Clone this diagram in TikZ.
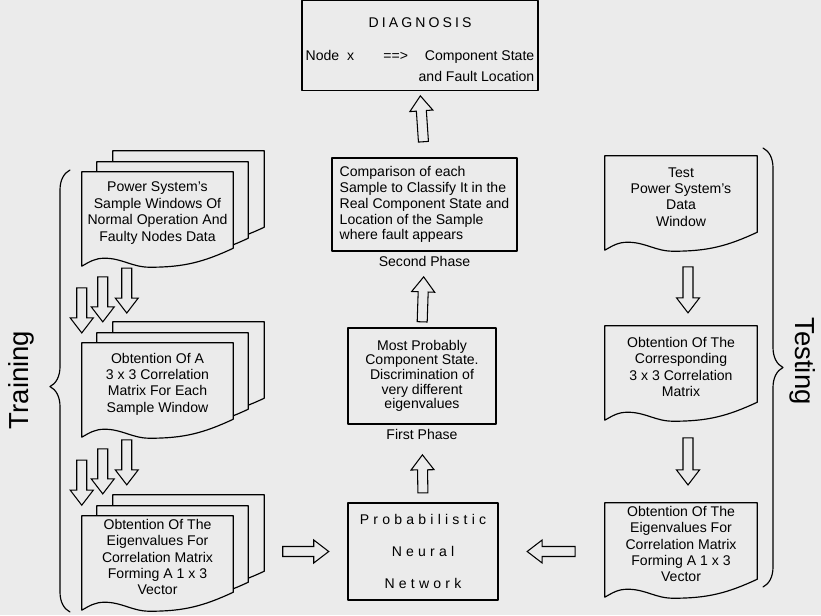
\documentclass[tikz,border=0pt]{standalone}
\usepackage{fontspec}
\setmainfont{Liberation Sans}
\newfontfamily\spacedfont[LetterSpace=30]{Liberation Sans}
\newfontfamily\capsfont[LetterSpace=22]{Liberation Sans}
\usetikzlibrary{calc,positioning,decorations.pathreplacing,decorations.markings,backgrounds}
\definecolor{paper}{gray}{0.92}

\newcommand{\docpage}[2]{%
\draw[page] ($(#1.north west)+(#2)$) -- ($(#1.north east)+(#2)$) -- ($(#1.south east)+(#2)+(0,6)$)
 to[out=205,in=0] ($(#1.south west)!0.45!(#1.south east)+(#2)+(0,-13)$)
 to[out=180,in=0] ($(#1.south west)!0.15!(#1.south east)+(#2)+(0,-4)$)
 to[out=180,in=30] ($(#1.south west)+(#2)+(0,-12)$) -- cycle;}

\tikzset{
 box/.style={draw, line width=1pt, fill=paper, inner sep=2pt, align=center, font=\fontsize{12}{13.6}\selectfont},
 doc/.style={inner sep=1pt, minimum width=4.53cm, minimum height=2.46cm, align=center, font=\fontsize{12}{14}\selectfont},
 page/.style={draw, fill=paper, line width=1pt, line join=round},
 phase/.style={inner sep=0pt, font=\fontsize{12}{14}\selectfont},
 side/.style={font=\fontsize{23.5}{28}\selectfont},
 grp/.style={decorate, decoration={brace, amplitude=0.6cm, aspect=#1}, line width=1pt},
 arrowbody/.style={draw, fill=paper, line width=0.9pt, line join=miter},
 blockarrow/.style n args={2}{postaction={decorate, decoration={markings, mark=at position #1 with {\draw[arrowbody] (-#2/2,5) -- (#2/2-15,5) -- (#2/2-15,11.5) -- (#2/2,0) -- (#2/2-15,-11.5) -- (#2/2-15,-5) -- (-#2/2,-5) -- cycle;}}}}
}

\begin{document}
\begin{tikzpicture}[x=0.03cm,y=0.03cm,line cap=round,line join=round]
\begin{scope}[on background layer]
\fill[paper] (0,0) rectangle (821,615);
\end{scope}
\useasboundingbox (0,0) rectangle (821,615);

\node[box, minimum width=7.08cm, minimum height=2.67cm, font=\fontsize{12}{18}\selectfont] (diag) at (420,569.5)
 {\begin{tabular}{@{}l@{\hspace{25pt}}l@{\hspace{9pt}}r@{}}
  \multicolumn{3}{c}{\rule{0pt}{21pt}\capsfont DIAGNOSIS}\\[10pt]
  Node\ \ x & ==> & Component State\\
  & & and Fault Location
  \end{tabular}};
\node[box, align=left, minimum width=5.55cm, minimum height=2.79cm] (cmp) at (424.5,410.5)
 {Comparison of each\\Sample to Classify It in the\\Real Component State and\\Location of the Sample\\where fault appears};
\node[phase, below=3.5pt of cmp] (ph2) {Second Phase};
\node[box, font=\fontsize{12}{12.5}\selectfont, minimum width=4.44cm, minimum height=2.88cm] (mpc) at (422,239)
 {Most Probably\\Component State.\\Discrimination of\\very different\\eigenvalues};
\node[phase, below=3.5pt of mpc] (ph1) {First Phase};
\node[box, font=\spacedfont\fontsize{12}{14}\selectfont, minimum width=4.5cm, minimum height=2.91cm] (pnn) at (423,63.5)
 {Probabilistic\\[13pt]Neural\\[13pt]Network};

\node[doc] (tr1) at (157.5,402) {Power System's\\Sample Windows Of\\Normal Operation And\\Faulty Nodes Data};
\node[doc] (tr2) at (157.5,231) {Obtention Of A\\3 x 3 Correlation\\Matrix For Each\\Sample Window};
\node[doc] (tr3) at (157.5,58) {Obtention Of The\\Eigenvalues For\\Correlation Matrix\\Forming A 1 x 3\\Vector};
\node[doc, minimum width=4.56cm] (te1) at (681,418) {Test\\Power System's\\Data\\Window};
\node[doc, minimum width=4.56cm] (te2) at (681,248) {Obtention Of The\\Corresponding\\3 x 3 Correlation\\Matrix};
\node[doc, minimum width=4.56cm] (te3) at (681,71) {Obtention Of The\\Eigenvalues For\\Correlation Matrix\\Forming A 1 x 3\\Vector};

\begin{scope}[on background layer]
\foreach \d in {tr1,tr2,tr3} {\docpage{\d}{31,21}\docpage{\d}{15,10}\docpage{\d}{0,0}}
\foreach \d in {te1,te2,te3} {\docpage{\d}{0,0}}
\end{scope}

\path[blockarrow={0.58}{46}] (cmp.north) -- (diag.south);
\path[blockarrow={0.37}{45}] (mpc.north) -- (cmp.south);
\path[blockarrow={0.367}{38}] (pnn.north) -- (mpc.south);
\path[blockarrow={0.635}{46}] (pnn.west -| tr3.east) -- (pnn.west);
\path[blockarrow={0.505}{48}] (pnn.east -| te3.west) -- (pnn.east);
\path[blockarrow={0.59}{46}] ([xshift=0.21cm]te1.south) -- ([xshift=0.21cm]te2.north);
\path[blockarrow={0.563}{47}] ([xshift=0.21cm]te2.south) -- ([xshift=0.21cm]te3.north);
\foreach \dx/\p in {0/0.635,0.63/0.51,1.35/0.41} {
 \path[blockarrow={\p}{45}] ([xshift=\dx cm]tr1.south west) -- ([xshift=\dx cm]tr2.north west);
 \path[blockarrow={\p}{45}] ([xshift=\dx cm]tr2.south west) -- ([xshift=\dx cm]tr3.north west);
}

\draw[grp=0.51] (70,3) -- (70,445);
\draw[grp=0.5] (763,467) -- (763,28);
\node[side, rotate=90] (train) at (21,235) {Training};
\node[side, rotate=-90] (test) at (803,254) {Testing};
\end{tikzpicture}
\end{document}
